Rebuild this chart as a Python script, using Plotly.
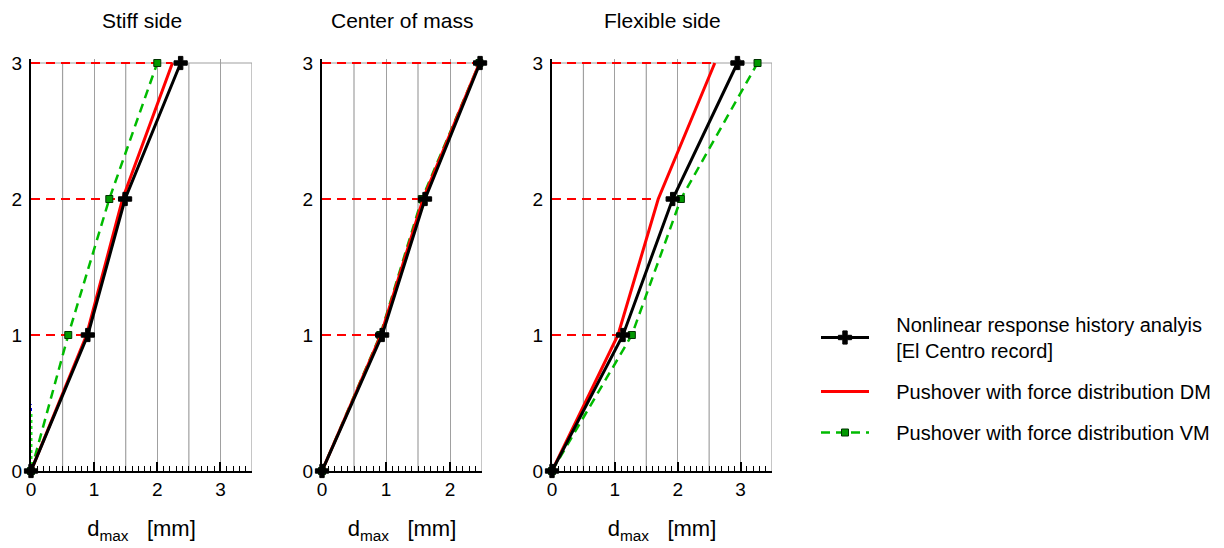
import plotly.graph_objects as go

# ---------------- data ----------------
panels = ["Stiff side", "Center of mass", "Flexible side"]
storeys = [0, 1, 2, 3]

nl_stiff = [0, 0.9, 1.49, 2.37]
dm_stiff = [0, 0.88, 1.45, 2.24]
vm_stiff = [0, 0.59, 1.24, 2.0]

nl_cm = [0, 0.94, 1.61, 2.47]
dm_cm = [0, 0.92, 1.58, 2.46]
vm_cm = [0, 0.91, 1.56, 2.46]

nl_flex = [0, 1.13, 1.92, 2.95]
dm_flex = [0, 1.05, 1.69, 2.59]
vm_flex = [0, 1.27, 2.05, 3.27]

# small residual traces at the base of the stiff side panel
blue_x = [0, 0]
blue_y = [0, 0.49]
lime_x = [0, 0]
lime_y = [0, 0.43]

x_ranges = [3.5, 2.5, 3.5]
x_ticks = [[0, 1, 2, 3], [0, 1, 2], [0, 1, 2, 3]]
y_ticks = [0, 1, 2, 3]

SP = "\u00a0" * 4
nl_name = SP + "Nonlinear response history analyis<br>" + SP + "[El Centro record]"
dm_name = SP + "Pushover with force distribution DM"
vm_name = SP + "Pushover with force distribution VM"

# ---------------- layout geometry ----------------
W, H = 1224, 548
OFF = 8  # page body margin
x_dom_px = [(31 - OFF, 252 - OFF), (322 - OFF, 482 - OFF), (552 - OFF, 772 - OFF)]
y3_px, y0_px = 63 - OFF, 471 - OFF
px_per_unit = (y0_px - y3_px) / 3.0
Y_TOP = 3.03
y_top_px = y0_px - Y_TOP * px_per_unit
y_dom = [1 - y0_px / H, 1 - y_top_px / H]

FONT = "Liberation Sans, Arial, Helvetica, sans-serif"

fig = go.Figure()

data_sets = [(nl_stiff, dm_stiff, vm_stiff), (nl_cm, dm_cm, vm_cm), (nl_flex, dm_flex, vm_flex)]

shapes = []
annotations = []

for i, (nl, dm, vm) in enumerate(data_sets):
    xa = "x" if i == 0 else f"x{i+1}"
    ya = "y" if i == 0 else f"y{i+1}"
    first = i == 0

    # half-unit gridlines (0.5, 1.5, ...)
    h = 0.5
    while h <= x_ranges[i] + 1e-9:
        if abs(h - round(h)) > 1e-9:
            shapes.append(dict(type="line", xref=xa, yref=ya, x0=h, x1=h, y0=0, y1=3,
                               line=dict(color="#a0a0a0", width=1.2), layer="below"))
        h += 0.5
    # top border line
    shapes.append(dict(type="line", xref=f"{xa} domain", yref=ya, x0=0, x1=1, y0=3, y1=3,
                       line=dict(color="#a0a0a0", width=1.2), layer="below"))

    # red dashed level lines to the DM value
    for s in (1, 2, 3):
        fig.add_trace(go.Scatter(x=[0, dm[s]], y=[s, s], mode="lines", xaxis=xa, yaxis=ya,
                                 line=dict(color="#ff0000", width=2, dash="9px,6px"),
                                 showlegend=False, hoverinfo="skip", cliponaxis=False))

    if first:
        fig.add_trace(go.Scatter(x=blue_x, y=blue_y, mode="lines", xaxis=xa, yaxis=ya,
                                 line=dict(color="#0000ff", width=2, dash="dot"),
                                 showlegend=False, cliponaxis=False))
        fig.add_trace(go.Scatter(x=lime_x, y=lime_y, mode="lines", xaxis=xa, yaxis=ya,
                                 line=dict(color="#22ee22", width=3, dash="dot"),
                                 showlegend=False, cliponaxis=False))

    fig.add_trace(go.Scatter(x=vm, y=storeys, mode="lines+markers", xaxis=xa, yaxis=ya,
                             name=vm_name, legendgroup="vm", showlegend=first, legendrank=3,
                             line=dict(color="#00bb00", width=2.5, dash="9px,6px"),
                             marker=dict(symbol="square", size=7, color="#009900",
                                         line=dict(color="#003300", width=1)),
                             cliponaxis=False))
    fig.add_trace(go.Scatter(x=dm, y=storeys, mode="lines", xaxis=xa, yaxis=ya,
                             name=dm_name, legendgroup="dm", showlegend=first, legendrank=2,
                             line=dict(color="#ff0000", width=3),
                             cliponaxis=False))
    fig.add_trace(go.Scatter(x=nl, y=storeys, mode="lines+markers", xaxis=xa, yaxis=ya,
                             name=nl_name, legendgroup="nl", showlegend=first, legendrank=1,
                             line=dict(color="#000000", width=3),
                             marker=dict(symbol="cross", size=11, color="#000000",
                                         line=dict(color="#000000", width=1)),
                             cliponaxis=False))

    x0p, x1p = x_dom_px[i]
    xdom = [x0p / W, x1p / W]
    axis_x = dict(domain=xdom, range=[0, x_ranges[i]], anchor=ya, automargin=False,
                  tickvals=x_ticks[i], ticktext=[str(t) for t in x_ticks[i]],
                  ticks="inside", ticklen=9, tickwidth=1.5, tickcolor="#000000",
                  showgrid=True, gridcolor="#a0a0a0", gridwidth=1.2,
                  showline=True, linecolor="#000000", linewidth=2, zeroline=False,
                  minor=dict(dtick=0.1, ticks="inside", ticklen=5, tickwidth=1,
                             tickcolor="#000000", showgrid=False),
                  tickfont=dict(size=19, color="#000000", family=FONT),
                  title=dict(text="d<sub>max</sub>\u00a0\u00a0\u00a0[mm]",
                             font=dict(size=22, color="#000000", family=FONT), standoff=22),
                  fixedrange=True)
    axis_y = dict(domain=y_dom, range=[0, Y_TOP], anchor=xa, automargin=False,
                  tickvals=y_ticks, ticktext=[str(t) for t in y_ticks],
                  ticks="", showgrid=False, zeroline=False, ticklabelstandoff=3,
                  showline=True, linecolor="#000000", linewidth=2,
                  tickfont=dict(size=19, color="#000000", family=FONT),
                  fixedrange=True)
    key = "" if i == 0 else str(i + 1)
    fig.layout["xaxis" + key] = axis_x
    fig.layout["yaxis" + key] = axis_y

    annotations.append(dict(text=panels[i], x=(xdom[0] + xdom[1]) / 2, y=1,
                            xref="paper", yref="paper", xanchor="center", yanchor="top",
                            borderpad=0, showarrow=False,
                            font=dict(size=21, color="#000000", family=FONT)))

fig.update_layout(
    width=W, height=H,
    margin=dict(l=0, r=0, t=0, b=0),
    paper_bgcolor="#ffffff", plot_bgcolor="#ffffff",
    shapes=shapes, annotations=annotations,
    font=dict(family=FONT, color="#000000"),
    legend=dict(x=808 / W, y=1 - 297 / H, xanchor="left", yanchor="top",
                font=dict(size=20, color="#000000", family=FONT),
                tracegroupgap=12, itemwidth=48, bgcolor="rgba(0,0,0,0)",
                traceorder="grouped"),
)

fig.write_html("out.html")
